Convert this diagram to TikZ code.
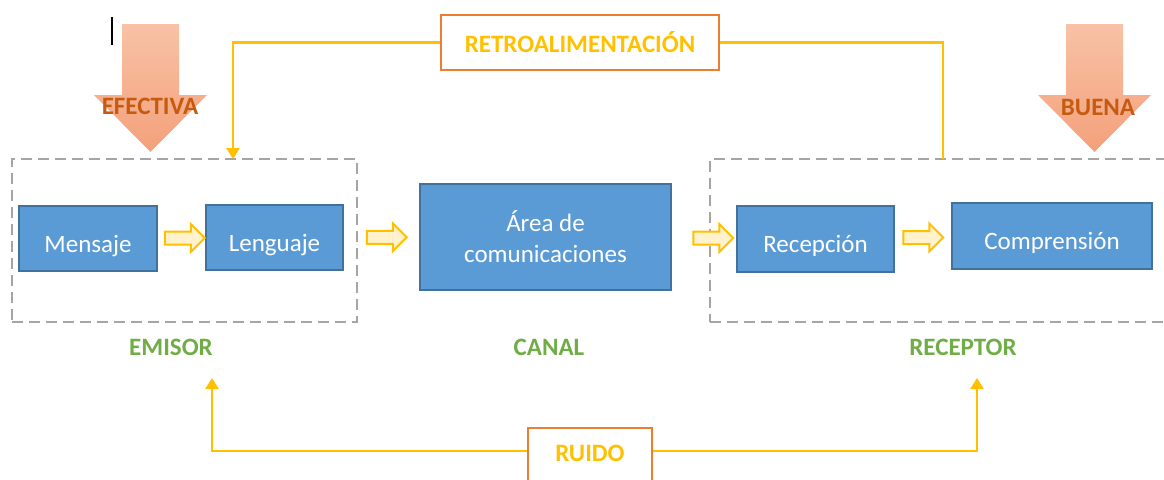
\documentclass[tikz,border=0pt]{standalone}
\usepackage{fontspec}
\setmainfont{Carlito}
\usepackage{tikz}
\usetikzlibrary{arrows.meta,shapes.arrows,calc}
\definecolor{cmblue}{RGB}{91,155,213}
\definecolor{cmblueline}{RGB}{65,113,156}
\definecolor{cmyellow}{RGB}{255,192,0}
\definecolor{cmlightyellow}{RGB}{255,242,204}
\definecolor{cmorange}{RGB}{237,125,49}
\definecolor{cmdarkorange}{RGB}{197,90,17}
\definecolor{cmgreen}{RGB}{112,173,71}
\definecolor{cmgray}{RGB}{165,165,165}
\definecolor{cmpeachtop}{RGB}{248,194,166}
\definecolor{cmpeachbot}{RGB}{244,160,122}
\newcommand{\cmfont}{\fontsize{25pt}{31pt}\selectfont}
\tikzstyle{block} = [draw=cmblueline, fill=cmblue, line width=2.5pt, text=white, font=\cmfont, align=center]
\tikzstyle{lowtext} = [text height=27pt, text depth=0pt]
\tikzstyle{hollow} = [single arrow, draw=cmyellow, fill=cmlightyellow, line width=2pt, inner xsep=0pt, inner ysep=5.5pt, single arrow head extend=7.5pt, minimum height=40pt]
\tikzstyle{group} = [draw=cmgray, line width=2.5pt, dash pattern=on 11pt off 6pt]
\tikzstyle{role} = [text=cmgreen, font=\cmfont\bfseries]
\tikzstyle{outbox} = [draw=cmorange, line width=2.5pt, text=cmyellow, font=\cmfont\bfseries]
\tikzstyle{loopline} = [draw=cmyellow, line width=2.5pt]
\tikzstyle{looparrow} = [loopline, -{Triangle[width=13pt,length=11pt]}]
\tikzstyle{bigarrow} = [top color=cmpeachtop, bottom color=cmpeachbot, draw=none]
\tikzstyle{quality} = [text=cmdarkorange, font=\cmfont\bfseries]

\begin{document}
\begin{tikzpicture}[x=1pt, y=-1pt]
\clip (0,0) rectangle (1164,479);

% Groups
\node[group, minimum width=345pt, minimum height=163pt] (emisorbox) at (184.5,240.5) {};
\node[group, minimum width=470pt, minimum height=163pt] (receptorbox) at (945,240.5) {};

% Blocks
\node[block, lowtext, minimum width=138pt, minimum height=65pt] (mensaje) at (88,238.5) {Mensaje};
\node[block, lowtext, minimum width=137pt, minimum height=65pt] (lenguaje) at (274.5,237.5) {Lenguaje};
\node[block, minimum width=251pt, minimum height=106pt] (area) at (545.5,237) {Área de\\comunicaciones};
\node[block, lowtext, minimum width=157pt, minimum height=66pt] (recepcion) at (815.5,239) {Recepción};
\node[block, lowtext, minimum width=200pt, minimum height=66pt] (comprension) at (1052,236) {Comprensión};

% Flow arrows
\node[hollow] (f1) at ($(mensaje.east)!0.5!(lenguaje.west)$) {};
\node[hollow] (f2) at ($(lenguaje.east)!0.5!(area.west)+(2,0)$) {};
\node[hollow] (f3) at ($(area.east)!0.5!(recepcion.west)+(6,0)$) {};
\node[hollow] (f4) at ($(recepcion.east)!0.5!(comprension.west)+(-3,0)$) {};

% Roles
\node[role] (emisor) at (171,347) {EMISOR};
\node[role] (canal) at (549,347) {CANAL};
\node[role] (receptor) at (963,347) {RECEPTOR};

% Feedback
\node[outbox, minimum width=278pt, minimum height=55pt] (retro) at (580,42.5) {RETROALIMENTACIÓN};
\coordinate (fbin) at (233,159);
\coordinate (fbout) at (943,159);
\draw[looparrow] (retro.west) -| (fbin);
\draw[loopline] (retro.east) -| (fbout);

% Noise
\node[outbox, minimum width=124pt, anchor=base, text height=18pt, text depth=30pt, inner ysep=15pt] (ruido) at (590,461) {RUIDO};
\coordinate (noisein) at (212,378);
\coordinate (noiseout) at (977,378);
\draw[looparrow] ([yshift=10pt]ruido.base west) -| (noisein);
\draw[looparrow] ([yshift=10pt]ruido.base east) -| (noiseout);

% Quality arrows
\path[bigarrow] (122,24) -- (179,24) -- (179,95) -- (207,95) -- (150.5,152) -- (94,95) -- (122,95) -- cycle;
\path[bigarrow] (1066,24) -- (1123,24) -- (1123,95) -- (1151,95) -- (1094.5,152) -- (1038,95) -- (1066,95) -- cycle;
\node[quality] (efectiva) at (150,106) {EFECTIVA};
\node[quality] (buena) at (1098,107) {BUENA};

% Cursor
\draw[line width=1.5pt] (112,17) -- (112,45);
\end{tikzpicture}
\end{document}
